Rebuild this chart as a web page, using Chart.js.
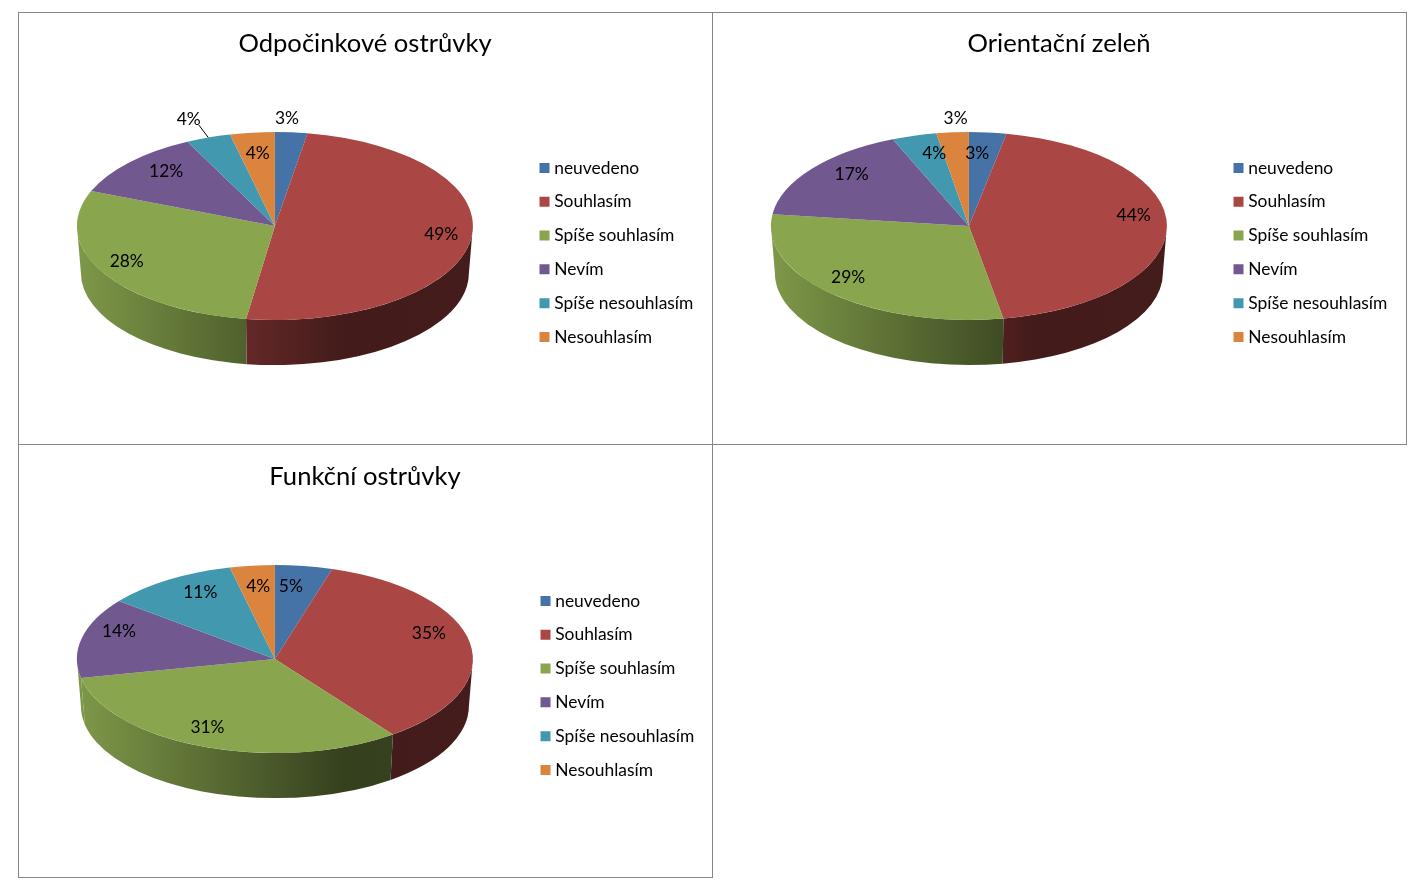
<!DOCTYPE html>
<html lang="cs"><head><meta charset="utf-8">
<style>
html,body{margin:0;padding:0;background:#fff;overflow:hidden}
#stage{position:relative;width:1427px;height:882px}
.frame{position:absolute;box-sizing:border-box;border:1px solid #868686}
canvas{position:absolute}
</style>
<script src="https://cdn.jsdelivr.net/npm/chart.js@4"></script>
</head><body><div id="stage">
<div class="frame" style="left:18px;top:12px;width:695px;height:433px"></div>
<div class="frame" style="left:712px;top:12px;width:695px;height:433px"></div>
<div class="frame" style="left:18px;top:444px;width:695px;height:434px"></div>
<canvas id="c1" style="left:18px;top:12px"></canvas>
<canvas id="c2" style="left:712px;top:12px"></canvas>
<canvas id="c3" style="left:18px;top:445px"></canvas>
</div>
<script>
const categories = ["neuvedeno","Souhlasím","Spíše souhlasím","Nevím","Spíše nesouhlasím","Nesouhlasím"];
const sliceColors = ["#4572a7","#aa4643","#89a54e","#71588f","#4198af","#db843d"];

const titleA = "Odpočinkové ostrůvky";
const titleB = "Orientační zeleň";
const titleC = "Funkční ostrůvky";

const valuesA = [2.6,49.1,28.4,11.5,3.6,3.6];
const valuesB = [3.0,43.6,29.4,16.5,3.6,2.6];
const valuesC = [4.6,34.6,31.4,13.6,10.6,3.6];

// label placement: radial factor and angular shift (deg) from each slice's mid angle
const labelRadiusA = [1.148,.844,.84,.803,1.217,.781];
const labelShiftA  = [-1.7,-3.2,2.9,4,-1.3,.2];
const labelRadiusB = [.777,.839,.817,.81,.789,1.15];
const labelShiftB  = [-2.4,-7.9,4.7,5.7,3.2,1.4];
const labelRadiusC = [.78,.825,.807,.839,.798,.781];
const labelShiftC  = [-2.5,-9.6,4.1,7,4.4,.4];

const FONT = "Lato, Carlito, sans-serif";
const RADIUS = 198, SQUASH = 94/198, DEPTH = 47, LOWER_RX = 194;
const LEG_DY = 49.8, TITLE_DX = 2;

function shade(hex,f){
  const n=parseInt(hex.slice(1),16);
  return `rgb(${Math.round((n>>16&255)*f)},${Math.round((n>>8&255)*f)},${Math.round((n&255)*f)})`;
}
function pie3d(labelRadius,labelShift,leaderIndex,legendDx){
  return {
    id:'pie3d',
    afterLayout(chart){
      const l=chart.legend, t=chart.titleBlock;
      l.top+=LEG_DY; l.bottom+=LEG_DY; l.left+=legendDx; l.right+=legendDx;
      t.left+=TITLE_DX; t.right+=TITLE_DX;
    },
    beforeDatasetsDraw(chart){
      const ctx=chart.ctx, arcs=chart.getDatasetMeta(0).data;
      const cx=arcs[0].x, cy=arcs[0].y, r=arcs[0].outerRadius;
      const bg=chart.data.datasets[0].backgroundColor;
      arcs.forEach((a,i)=>{
        // visible wall: part of the slice that lies on the front half
        const s=a.startAngle, e=a.endAngle;
        const ranges=[[s,e],[s-2*Math.PI,e-2*Math.PI],[s+2*Math.PI,e+2*Math.PI]];
        ranges.forEach(([p,q])=>{
          const a0=Math.max(p,0), a1=Math.min(q,Math.PI);
          if(a1<=a0) return;
          // a thin sliver at the far left edge is hidden by the neighbouring wall
          const sliver = a1===Math.PI && a0>0 && (a1-a0)<15*Math.PI/180;
          const col = bg[sliver ? i-1 : i];
          const g=ctx.createLinearGradient(cx-r,0,cx+r,0);
          g.addColorStop(0,shade(col,.92));
          g.addColorStop(.676,shade(col,.39));
          g.addColorStop(1,shade(col,.40));
          ctx.beginPath();
          ctx.ellipse(cx,cy,r,r*SQUASH,0,a0,a1);
          ctx.ellipse(cx,cy+DEPTH,LOWER_RX,LOWER_RX*SQUASH,0,a1,a0,true);
          ctx.closePath();
          ctx.fillStyle=g; ctx.fill();
        });
      });
      ctx.save();
      ctx.translate(cx,cy); ctx.scale(1,SQUASH); ctx.translate(-cx,-cy);
    },
    afterDatasetsDraw(chart){
      const ctx=chart.ctx; ctx.restore();
      const arcs=chart.getDatasetMeta(0).data, vals=chart.data.datasets[0].data;
      ctx.fillStyle='#000'; ctx.textAlign='center'; ctx.textBaseline='middle';
      ctx.font=`17.4px ${FONT}`;
      const at=(ang,f,a)=>[a.x+a.outerRadius*f*Math.cos(ang),a.y+a.outerRadius*f*SQUASH*Math.sin(ang)];
      arcs.forEach((a,i)=>{
        const mid=(a.startAngle+a.endAngle)/2;
        const [x,y]=at(mid+labelShift[i]*Math.PI/180,labelRadius[i],a);
        ctx.fillText(Math.round(vals[i])+'%',x,y);
        if(i===leaderIndex){
          const [x0,y0]=at(mid,1.14,a),[x1,y1]=at(mid,1,a);
          ctx.strokeStyle='#000';ctx.lineWidth=1;
          ctx.beginPath();ctx.moveTo(x0,y0);ctx.lineTo(x1,y1);ctx.stroke();
        }
      });
    }
  };
}
function makeChart(id,title,values,labelRadius,labelShift,leaderIndex,legendDx){
  const cv=document.getElementById(id);
  cv.width=694; cv.height=432; 
  return new Chart(cv,{
    type:'pie',
    data:{labels:categories,datasets:[{data:values,backgroundColor:sliceColors,borderWidth:0,radius:RADIUS,clip:false}]},
    options:{
      responsive:false,animation:false,devicePixelRatio:1,
      layout:{padding:{left:4,right:8,top:0,bottom:50.7}},
      events:[],
      plugins:{
        tooltip:{enabled:false},
        title:{display:true,text:title,color:'#000',font:{family:FONT,size:25.6,weight:'normal',lineHeight:1.2},padding:{top:16,bottom:0}},
        legend:{position:'right',
          labels:{color:'#000',font:{family:FONT,size:17.4},padding:16.4,boxWidth:2,boxHeight:10,usePointStyle:true,pointStyle:'rect'}}
      }
    },
    plugins:[pie3d(labelRadius,labelShift,leaderIndex,legendDx)]
  });
}
makeChart('c1',titleA,valuesA,labelRadiusA,labelShiftA,4,-0.7);
makeChart('c2',titleB,valuesB,labelRadiusB,labelShiftB,-1,-0.7);
makeChart('c3',titleC,valuesC,labelRadiusC,labelShiftC,-1,0.3);
</script></body></html>
